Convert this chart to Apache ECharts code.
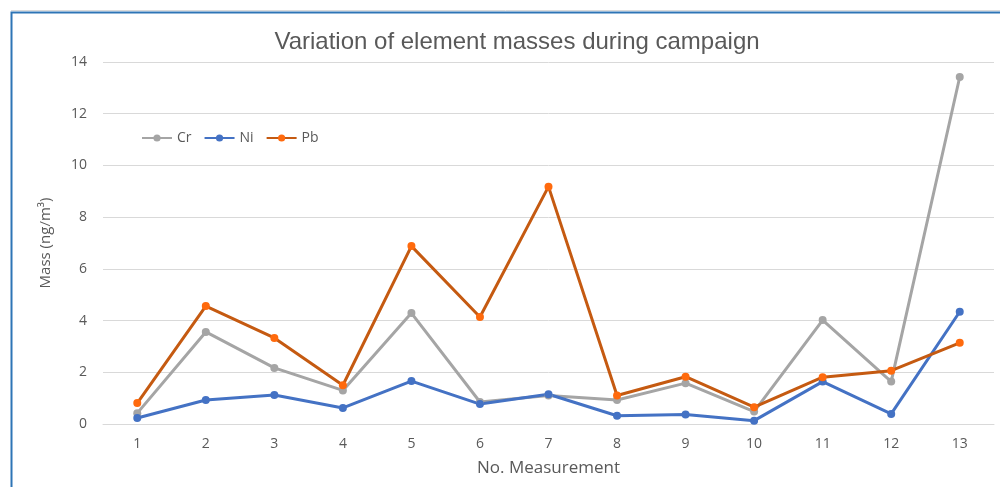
<!DOCTYPE html>
<html>
<head>
<meta charset="utf-8">
<script src="https://cdn.jsdelivr.net/npm/echarts@6/dist/echarts.min.js"></script>
<style>html,body{margin:0;padding:0;background:#fff}#c{width:1000px;height:487px}</style>
</head>
<body>
<div id="c"></div>
<script>
const categories = ['1','2','3','4','5','6','7','8','9','10','11','12','13'];
const cr = [0.42, 3.56, 2.17, 1.30, 4.29, 0.85, 1.10, 0.93, 1.58, 0.48, 4.02, 1.64, 13.42];
const ni = [0.23, 0.93, 1.12, 0.62, 1.66, 0.77, 1.15, 0.32, 0.37, 0.13, 1.64, 0.39, 4.34];
const pb = [0.81, 4.56, 3.33, 1.50, 6.88, 4.14, 9.18, 1.10, 1.83, 0.65, 1.81, 2.06, 3.14];

const chart = echarts.init(document.getElementById('c'));
const txt = '#595959';
const font = "'Open Sans', 'Liberation Sans', sans-serif";
function s(name, data, line, marker) {
  return {
    name, type: 'line', data,
    symbol: 'circle', symbolSize: 8,
    lineStyle: { width: 3, color: line },
    itemStyle: { color: marker },
    emphasis: { disabled: true },
    z: 3
  };
}
chart.setOption({
  animation: false,
  title: {
    text: 'Variation of element masses during campaign',
    left: 512, top: 25, textAlign: 'center',
    textStyle: { color: txt, fontSize: 24, fontWeight: 'normal', fontFamily: "'Liberation Sans', sans-serif" }
  },
  legend: {
    left: 136, top: 126, itemWidth: 30, itemHeight: 9, itemGap: 12,
    textStyle: { color: txt, fontSize: 14, fontFamily: font },
    data: ['Cr', 'Ni', 'Pb']
  },
  grid: { left: 103, right: 6, top: 62, bottom: 63 },
  xAxis: {
    type: 'category', data: categories, boundaryGap: true,
    name: 'No. Measurement', nameLocation: 'middle', nameGap: 36,
    nameTextStyle: { color: txt, fontSize: 17, fontFamily: font },
    axisLine: { lineStyle: { color: '#d9d9d9', width: 1 } },
    axisTick: { show: false },
    axisLabel: { color: txt, fontSize: 14, fontFamily: font, margin: 13 }
  },
  yAxis: {
    type: 'value', min: 0, max: 14, interval: 2,
    name: 'Mass (ng/m³)', nameLocation: 'middle', nameGap: 50,
    nameTextStyle: { color: txt, fontSize: 15, fontFamily: font },
    axisLine: { show: false }, axisTick: { show: false },
    axisLabel: { color: txt, fontSize: 14, fontFamily: font, margin: 16 },
    splitLine: { lineStyle: { color: '#d9d9d9', width: 1 } }
  },
  series: [
    s('Cr', cr, '#A5A5A5', '#A5A5A5'),
    s('Ni', ni, '#4472C4', '#4472C4'),
    s('Pb', pb, '#C55A11', '#FF6A0D')
  ],
  graphic: [
    { type: 'line', shape: { x1: 11, y1: 10.5, x2: 1000, y2: 10.5 }, style: { stroke: '#d9d9d9', lineWidth: 1 } },
    { type: 'rect', shape: { x: 11.5, y: 12.5, width: 1000, height: 500 }, style: { fill: 'none', stroke: '#2E75B6', lineWidth: 2 } }
  ]
});
</script>
</body>
</html>
